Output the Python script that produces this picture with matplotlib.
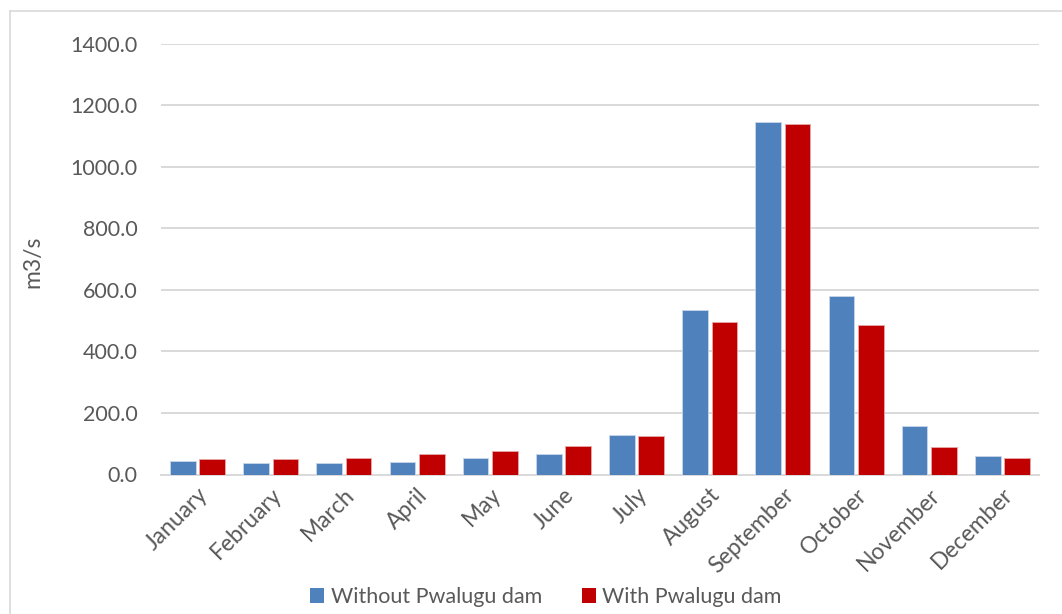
import matplotlib
matplotlib.use("Agg")
import matplotlib.pyplot as plt
from matplotlib.patches import Patch
from matplotlib.lines import Line2D
import numpy as np

plt.rcParams['font.family'] = ['Lato', 'DejaVu Sans']

months = ["January", "February", "March", "April", "May", "June", "July",
          "August", "September", "October", "November", "December"]
without_dam = [45, 37, 36, 42, 55, 65, 127, 535, 1145, 580, 156, 60]
with_dam = [51, 51, 54, 65, 76, 94, 126, 494, 1139, 484, 90, 54]
series_names = ["Without Pwalugu dam", "With Pwalugu dam"]
y_ticks = [0, 200, 400, 600, 800, 1000, 1200, 1400]

blue = "#4f81bd"
red = "#c00000"
text_col = "#595959"
grid_col = "#d9d9d9"
fs = 15.5

fig = plt.figure(figsize=(10.62, 6.14), dpi=100)
ax = fig.add_axes([161 / 1062, 1 - 474.5 / 614, 878 / 1062, 431 / 614])

x = np.arange(len(months))
w = 0.35
off = 0.2
ax.bar(x - off, without_dam, w, color=blue, edgecolor="#c9d7ea", linewidth=0.6, zorder=3)
ax.bar(x + off, with_dam, w, color=red, edgecolor="#e8a8a8", linewidth=0.6, zorder=3)

ax.set_xlim(-0.5, len(months) - 0.5)
ax.set_ylim(0, 1400)
ax.set_yticks(y_ticks)
ax.set_yticklabels([f"{v:.1f}" for v in y_ticks], color=text_col, fontsize=fs)
ax.yaxis.grid(True, color=grid_col, linewidth=1.4, zorder=0)
ax.set_axisbelow(True)
ax.tick_params(axis="y", length=0, pad=17)
ax.tick_params(axis="x", length=0, pad=7)
ax.set_xticks(x)
ax.set_xticklabels(months, rotation=45, ha="right", rotation_mode="anchor",
                   color=text_col, fontsize=16.5)
for s in ["top", "right", "left"]:
    ax.spines[s].set_visible(False)
ax.spines["bottom"].set_color(grid_col)
ax.spines["bottom"].set_linewidth(1.4)

fig.text(33 / 1062, 1 - 262 / 614, "m3/s", rotation=90, ha="center", va="center",
         color=text_col, fontsize=16.5)

# chart frame (left and top edges visible)
fig.add_artist(Line2D([9.5 / 1062, 9.5 / 1062], [-0.1, 1 - 10.5 / 614],
                      transform=fig.transFigure, color=grid_col, linewidth=1.2))
fig.add_artist(Line2D([9.5 / 1062, 1.1], [1 - 10.5 / 614, 1 - 10.5 / 614],
                      transform=fig.transFigure, color=grid_col, linewidth=1.2))

handles = [Patch(facecolor=blue, edgecolor="none"), Patch(facecolor=red, edgecolor="none")]
fig.legend(handles, series_names, loc="center", bbox_to_anchor=(546 / 1062, 1 - 597 / 614),
           ncol=2, frameon=False, fontsize=fs, handlelength=0.65, handleheight=0.65,
           handletextpad=0.3, columnspacing=1.85, labelcolor=text_col,
           borderpad=0, borderaxespad=0)

fig.savefig("out.png", dpi=100)
